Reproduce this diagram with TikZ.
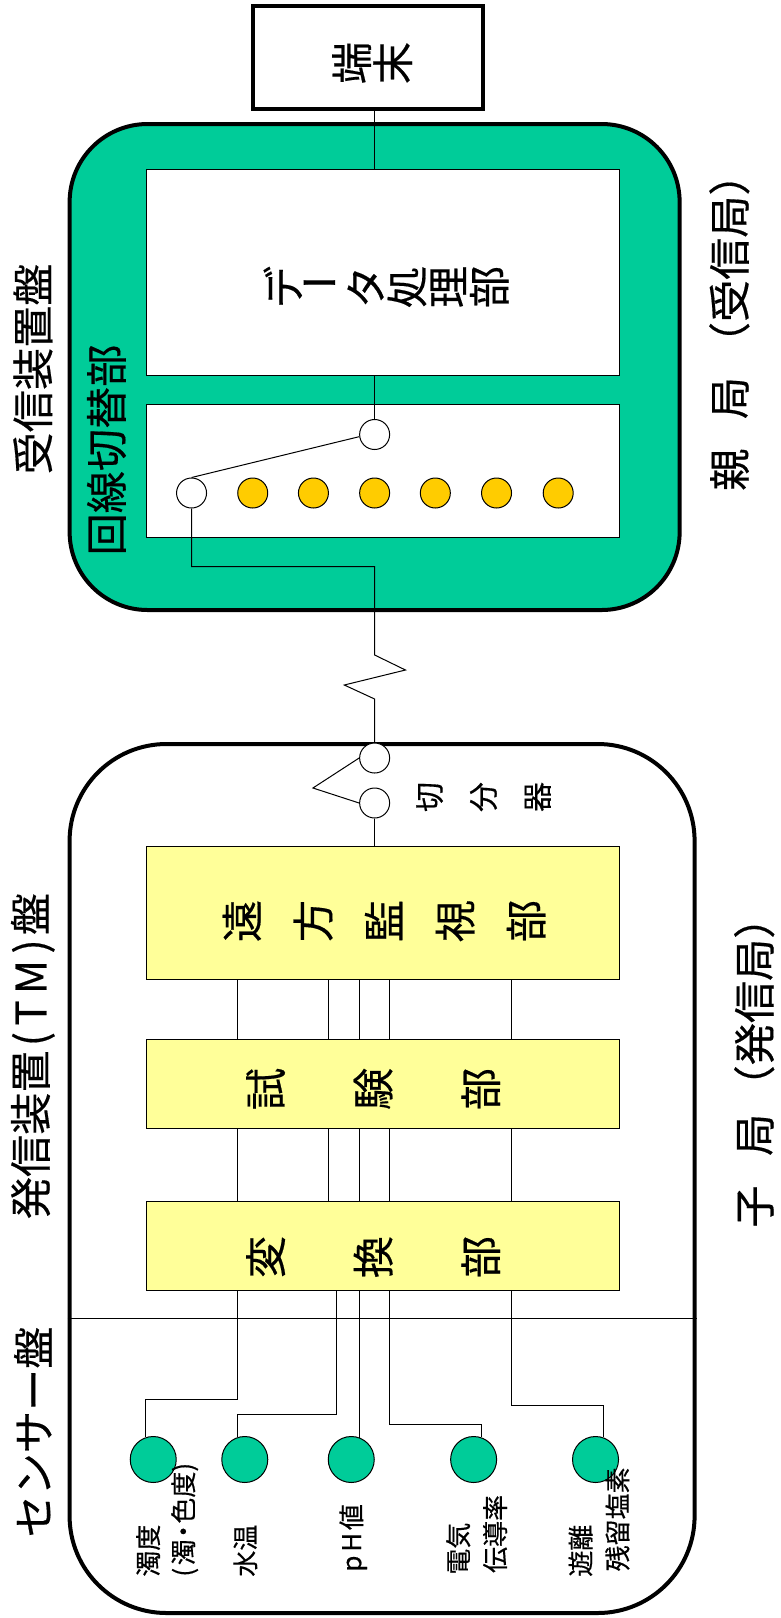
\documentclass[tikz,border=0pt]{standalone}
\usepackage{fontspec}
\setmainfont[FakeBold=0.4]{Noto Sans CJK JP}
\usepackage{tikz}
\definecolor{panelgreen}{HTML}{00CC99}
\definecolor{boxyellow}{HTML}{FFFF99}
\definecolor{portorange}{HTML}{FFCC00}
\tikzset{
  frame/.style={draw,line width=0.8mm},
  unitbox/.style={draw,line width=0.2mm,minimum width=94.6mm},
  port/.style={draw,circle,line width=0.2mm,minimum size=6mm,inner sep=0,fill=white},
  sensor/.style={draw,circle,line width=0.2mm,minimum size=9.2mm,inner sep=0,fill=panelgreen},
  wire/.style={line width=0.2mm},
  title/.style={rotate=90,inner sep=0,font=\fontsize{24}{24}\selectfont},
  stack/.style={rotate=90,inner sep=0,align=center,font=\fontsize{24}{#1}\selectfont},
  stack/.default=23.4,
  small/.style={rotate=90,inner sep=0,anchor=west,align=left,font=\fontsize{14.8}{21}\selectfont}
}
\begin{document}
\begin{tikzpicture}[x=0.199mm,y=-0.2mm]
\useasboundingbox (0,0) rectangle (783.9,1618);
% panels
\node[frame,fill=panelgreen,rounded corners=15.6mm,minimum width=122mm,minimum height=97.2mm] (rxpanel) at (376.5,367) {};
\node[frame,rounded corners=19.4mm,minimum width=125mm,minimum height=173.8mm] (txpanel) at (384,1178.5) {};
\node[frame,fill=white,minimum width=46mm,minimum height=20.6mm] (term) at (369.5,57.5) {};
\node[unitbox,fill=white,minimum height=41.2mm] (data) at (384.5,272) {};
\node[unitbox,fill=white,minimum height=26.6mm] (switch) at (384.5,470.5) {};
\node[unitbox,fill=boxyellow,minimum height=26.6mm] (watch) at (384.5,913) {};
\node[unitbox,fill=boxyellow,minimum height=17.8mm] (test) at (384.5,1083.5) {};
\node[unitbox,fill=boxyellow,minimum height=17.8mm] (conv) at (384.5,1245.5) {};
% switch ports
\node[port] (swcom) at (376.5,434.5) {};
\node[port] (swp0) at (192.5,493) {};
\foreach \n/\xx in {1/254,2/315,3/376.5,4/437.5,5/499,6/561}
  \node[port,fill=portorange] (swp\n) at (\xx,493) {};
\node[port] (splita) at (376.5,758) {};
\node[port] (splitb) at (376.5,803) {};
% sensors
\node[sensor] (s1) at (154,1459.5) {};
\node[sensor] (s2) at (246,1459.5) {};
\node[sensor] (s3) at (353,1459.5) {};
\node[sensor] (s4) at (476,1459.5) {};
\node[sensor] (s5) at (598.5,1459.5) {};
% connectors
\draw[wire] (term.south -| swcom) -- (data.north -| swcom);
\draw[wire] (data.south -| swcom) -- (swcom.north);
\draw[wire] (swcom.188) -- (swp0.north);
\coordinate (bend) at (376.5,566.5);
\coordinate (zaga) at (376.5,655);
\coordinate (zagb) at (407.5,670);
\coordinate (zagc) at (346,685);
\coordinate (zagd) at (376.5,699);
\draw[wire] (swp0.south) |- (bend) -- (zaga) -- (zagb) -- (zagc) -- (zagd) -- (splita.north);
\coordinate (apex) at (314.5,788);
\draw[wire] (splita.west) -- (apex) -- (splitb.west);
\draw[wire] (splitb.south) -- (watch.north -| splitb);
\foreach \xx in {238.5,330.5,361.5,391.5,514} {
  \coordinate (w) at (\xx,0);
  \draw[wire] (watch.south -| w) -- (test.north -| w);
  \draw[wire] (test.south -| w) -- (conv.north -| w);
}
\coordinate (divide) at (0,1318);
\draw[wire] (txpanel.west |- divide) -- (txpanel.east |- divide);
\foreach \n/\xa/\xb/\yb/\ang in {1/238.5/146.5/1399/109,2/338/238.5/1414/109,3/361.5/361.5/1400/68,4/391.5/484/1424/70,5/514/606.5/1405/70} {
  \coordinate (ta) at (\xa,\yb);
  \coordinate (tb) at (\xb,\yb);
  \draw[wire] (conv.south -| ta) -- (ta) -- (tb) -- (tb |- s\n.\ang);
}
% side titles
\node[title] (rxtitle) at (33,369) {受信装置盤};
\node[title] (swtitle) at (107,450) {回線切替部};
\node[title] (rxstation) at (733,322) {親\hspace{0.7em}局\hspace{0.3em}（受信局）};
\node[title] (txtitle) at (33,1056) {発信装置\kern.1em(\kern.15em T\kern.15em M\kern.15em)\kern.1em盤};
\node[title] (txstation) at (758,1062) {子\hspace{0.7em}局\hspace{0.15em}（発信局）};
\node[title] (sensortitle) at (33,1432) {センサー盤};
% unit labels
\node[stack] (termlab) at (374,63) {端\\末};
\node[stack] (datalab) at (388,287) {デ\\\phantom{ー}\\タ\\処\\理\\部};
\node[inner sep=0,font=\fontsize{22}{22}\selectfont\addfontfeature{FakeBold=2}] (databar) at (321,289) {ー};
\node[stack=40.4] (watchlab) at (386,921) {遠\\方\\監\\視\\部};
\node[stack=61.2] (testlab) at (375,1089) {試\\験\\部};
\node[stack=61.2] (convlab) at (375,1257) {変\\換\\部};
\node[rotate=90,inner sep=0,align=center,font=\fontsize{17}{30.7}\selectfont] (splitlab) at (486,797) {切\\分\\器};
% sensor labels
\node[small] (l1) at (168,1577) {濁度\\[-1pt](\kern.1em濁\kern-.2em・\kern-.2em色度)};
\node[small] (l2) at (246.5,1577) {水温};
\node[small] (l3) at (355,1572) {p\kern.15em H\kern.1em 値};
\node[small] (l4) at (479,1575) {電気\\\hspace*{1pt}伝導率};
\node[small] (l5) at (602,1577) {遊離\\\hspace*{3pt}残留塩素};
\end{tikzpicture}
\end{document}
